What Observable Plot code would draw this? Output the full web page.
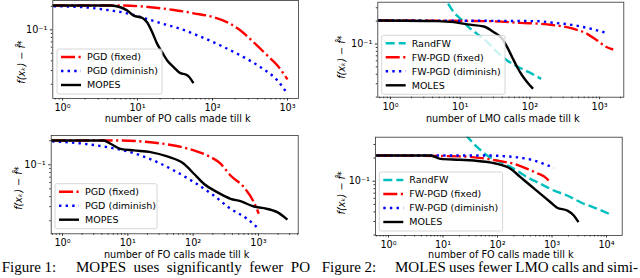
<!DOCTYPE html>
<html><head><meta charset="utf-8">
<script src="https://cdn.jsdelivr.net/npm/d3@7"></script>
<script src="https://cdn.jsdelivr.net/npm/@observablehq/plot@0.6"></script>
<style>
html,body{margin:0;padding:0;background:#fff;}
#fig{position:relative;width:640px;height:278px;overflow:hidden;}
.panel{position:absolute;}
.cap{position:absolute;font-family:"Liberation Serif";font-size:15px;line-height:15px;white-space:nowrap;color:#000;}
</style></head><body><div id="fig"></div>
<script>
// ---------- data ----------
// Panel 1: f(x_k)-f* vs number of PO calls
const p1_fixed_k = [0.76, 6.6, 14.9, 30.5, 56.4, 104, 174, 236, 354, 538, 735, 1000];
const p1_fixed_v = [0.205, 0.205, 0.195, 0.180, 0.163, 0.145, 0.119, 0.098, 0.0693, 0.0469, 0.0349, 0.0231];
const p1_dimin_k = [0.76, 1.92, 3.94, 7.3, 13.4, 20.3, 37.3, 69, 128, 236, 437, 735, 1000];
const p1_dimin_v = [0.201, 0.195, 0.180, 0.163, 0.138, 0.122, 0.103, 0.082, 0.0629, 0.0469, 0.0332, 0.0224, 0.0151];
const p1_mopes_k = [0.76, 4.37, 5.9, 7.3, 8.9, 11.5, 13.4, 15.7, 18.3, 21.3, 24.9, 30.5, 37.3, 43.8, 48.2, 54.6];
const p1_mopes_v = [0.205, 0.205, 0.195, 0.177, 0.152, 0.143, 0.125, 0.093, 0.066, 0.0516, 0.0404, 0.0331, 0.0278, 0.0267, 0.0252, 0.0213];

// Panel 2: vs number of LMO calls
const p2_rand_k = [6.7, 8.1, 10.1, 13.3, 17.5, 24.4, 34, 47.2, 65.8, 96.5, 145];
const p2_rand_v = [0.34, 0.262, 0.215, 0.166, 0.136, 0.106, 0.078, 0.0607, 0.0506, 0.0426, 0.0348];
const p2_fixed_k = [0.68, 24.4, 73.3, 177, 427, 663, 924, 1216, 1567];
const p2_fixed_v = [0.204, 0.200, 0.190, 0.181, 0.158, 0.136, 0.111, 0.0927, 0.0847];
const p2_dimin_k = [0.68, 127, 221, 427, 663, 1030, 1285];
const p2_dimin_v = [0.204, 0.200, 0.190, 0.177, 0.163, 0.147, 0.139];
const p2_moles_k = [0.68, 4.68, 8.1, 12.6, 21.8, 30.3, 40, 47.2, 55.7, 65.8, 77.5, 91.5, 108];
const p2_moles_v = [0.204, 0.200, 0.194, 0.181, 0.170, 0.143, 0.117, 0.0908, 0.0670, 0.0495, 0.0385, 0.0314, 0.0265];

// Panel 3: vs number of FO calls (MOPES)
const p3_fixed_k = [0.695, 6.88, 22.3, 50.7, 103, 164, 263, 374, 598, 851, 1014];
const p3_fixed_v = [0.201, 0.201, 0.191, 0.174, 0.151, 0.131, 0.103, 0.0735, 0.0525, 0.0341, 0.0244];
const p3_dimin_k = [0.695, 2.12, 4.83, 8.69, 15.6, 28.2, 50.7, 103, 207, 374, 673, 1014];
const p3_dimin_v = [0.196, 0.183, 0.166, 0.151, 0.131, 0.108, 0.0849, 0.0606, 0.0413, 0.0282, 0.0211, 0.0158];
const p3_mopes_k = [0.695, 4.29, 5.43, 7.73, 12.4, 22.3, 40.1, 72, 103, 146, 234, 374, 532, 851, 1211, 1941, 2692];
const p3_mopes_v = [0.201, 0.201, 0.183, 0.158, 0.151, 0.144, 0.127, 0.103, 0.0772, 0.0579, 0.0454, 0.0376, 0.0351, 0.0301, 0.0287, 0.0256, 0.0211];

// Panel 4: vs number of FO calls (MOLES)
const p4_rand_k = [26, 42.4, 64.7, 114, 200, 351, 615, 1081, 1900, 3334, 6745, 11840];
const p4_rand_v = [0.40, 0.277, 0.216, 0.177, 0.145, 0.113, 0.0925, 0.0757, 0.0652, 0.0533, 0.0438, 0.0370];
const p4_fixed_k = [0.62, 20.9, 64.7, 114, 200, 351, 535, 817, 938];
const p4_fixed_v = [0.216, 0.210, 0.195, 0.182, 0.168, 0.145, 0.127, 0.107, 0.0925];
const p4_dimin_k = [0.62, 64.7, 150, 264, 464, 708, 1081];
const p4_dimin_v = [0.216, 0.216, 0.210, 0.202, 0.186, 0.168, 0.149];
const p4_moles_k = [0.62, 5.9, 9.0, 20.9, 48.8, 98.6, 173, 264, 403, 615, 938, 1243, 1900, 2511, 2978];
const p4_moles_v = [0.216, 0.216, 0.195, 0.190, 0.182, 0.168, 0.145, 0.113, 0.0879, 0.0686, 0.0533, 0.0452, 0.0416, 0.0359, 0.0303];

// names, labels, ticks
const legend1 = ["PGD (fixed)", "PGD (diminish)", "MOPES"];
const legend2 = ["RandFW", "FW-PGD (fixed)", "FW-PGD (diminish)", "MOLES"];
const xLabels = ["number of PO calls made till k", "number of LMO calls made till k", "number of FO calls made till k", "number of FO calls made till k"];
const yLabel = "f(x\u2096) \u2212 f\u0302*";
const xMajor3 = [1, 10, 100, 1000];
const xMajor4 = [1, 10, 100, 1000, 10000];
const yMajor = [0.1];
const captions = [["Figure 1:", "MOPES uses significantly fewer PO"], ["Figure 2:", "MOLES uses fewer LMO calls and simi-"]];

// ---------- styles ----------
const STYLE = {
  "PGD (fixed)":       {color: "#ff0000", dash: "14,3.5,2.2,3.5", cap: "butt"},
  "PGD (diminish)":    {color: "#0000ff", dash: "2.4,4.2", cap: "butt"},
  "MOPES":             {color: "#000000", dash: null, cap: "square"},
  "RandFW":            {color: "#00bfbf", dash: "9,4", cap: "butt"},
  "FW-PGD (fixed)":    {color: "#ff0000", dash: "14,3.5,2.2,3.5", cap: "butt"},
  "FW-PGD (diminish)": {color: "#0000ff", dash: "2.4,4.2", cap: "butt"},
  "MOLES":             {color: "#000000", dash: null, cap: "square"}
};
const AXIS = "#333";
const LW = 2.4;

const SUP = {"0":"\u2070","1":"\u00b9","2":"\u00b2","3":"\u00b3","4":"\u2074","-":"\u207b"};
const pow10Label = d => "10" + String(Math.round(Math.log10(d))).split("").map(c => SUP[c]).join("");
function minors(lo, hi) {
  const out = [];
  for (let e = -3; e <= 5; e++) for (let m = 2; m <= 9; m++) {
    const v = m * Math.pow(10, e);
    if (v >= lo && v <= hi) out.push(v);
  }
  return out;
}

function legendMark(names, firstRow, boxWidth, leftOff) {
  return (index, scales, values, dims) => {
    const {marginLeft, marginTop} = dims;
    const n = names.length;
    const x0 = marginLeft + leftOff;
    const y0 = marginTop + firstRow - 8;
    const h = 14 * (n - 1) + 17;
    const g = d3.create("svg:g");
    g.append("rect").attr("x", x0).attr("y", y0).attr("width", boxWidth).attr("height", h)
      .attr("rx", 2).attr("fill", "white").attr("fill-opacity", 0.8)
      .attr("stroke", "#cccccc").attr("stroke-width", 0.8);
    names.forEach((name, i) => {
      const s = STYLE[name];
      const y = marginTop + firstRow + 14 * i;
      g.append("line").attr("x1", x0 + 4).attr("x2", x0 + 24).attr("y1", y).attr("y2", y)
        .attr("stroke", s.color).attr("stroke-width", LW)
        .attr("stroke-dasharray", s.dash).attr("stroke-linecap", s.cap === "square" ? "butt" : s.cap);
      g.append("text").attr("x", x0 + 30).attr("y", y).attr("dy", "0.35em")
        .attr("text-anchor", "start").attr("font-size", "9.5px").attr("fill", "black").text(name);
    });
    return g.node();
  };
}

// rotated y-axis title, centred at (frame left + dx, frame middle + dy)
function yLabelMark(dx, dy) {
  return (index, scales, values, dims) => {
    const cx = dims.marginLeft + dx;
    const cy = (dims.marginTop + dims.height - dims.marginBottom) / 2 + dy;
    return d3.create("svg:text")
      .attr("transform", `translate(${cx},${cy}) rotate(-90)`)
      .attr("text-anchor", "middle").attr("dy", "0.35em")
      .attr("font-style", "italic").attr("fill", "black").text(yLabel).node();
  };
}

function makePanel(cfg) {
  const lines = cfg.series.map(([name, k, v]) => {
    const s = STYLE[name];
    return Plot.line(d3.zip(k, v), {
      x: d => d[0], y: d => d[1], stroke: s.color, strokeWidth: LW,
      strokeDasharray: s.dash, strokeLinecap: s.cap, strokeLinejoin: "round",
      curve: "monotone-x", clip: true
    });
  });
  const chart = Plot.plot({
    width: cfg.width, height: cfg.height,
    marginTop: cfg.m[0], marginRight: cfg.m[1], marginBottom: cfg.m[2], marginLeft: cfg.m[3],
    style: {fontFamily: "DejaVu Sans", fontSize: "9.7px", background: "transparent", color: "black"},
    x: {type: "log", domain: cfg.xDomain},
    y: {type: "log", domain: cfg.yDomain},
    marks: [
      ...lines,
      Plot.frame({stroke: AXIS, strokeWidth: 0.8}),
      Plot.axisX({ticks: cfg.xMajor, tickFormat: pow10Label, tickSize: 2.5, tickPadding: 3, label: null, stroke: AXIS, fill: "black"}),
      Plot.axisX({ticks: minors(cfg.xDomain[0], cfg.xDomain[1]), tickFormat: () => "", tickSize: 1.5, label: null, stroke: AXIS}),
      Plot.axisY({ticks: yMajor, tickFormat: pow10Label, tickSize: 2.5, tickPadding: 3, label: null, stroke: AXIS, fill: "black"}),
      Plot.axisY({ticks: minors(cfg.yDomain[0], cfg.yDomain[1]), tickFormat: () => "", tickSize: 1.5, label: null, stroke: AXIS}),
      Plot.text([cfg.xLabel], {frameAnchor: "bottom", dx: 2, dy: cfg.xLabelDy, lineAnchor: "middle", fill: "black"}),
      yLabelMark(cfg.yLabelD[0], cfg.yLabelD[1]),
      legendMark(cfg.legend, cfg.legendRow, cfg.legendWidth, cfg.legendLeft)
    ]
  });
  chart.classList.add("panel");
  chart.style.left = cfg.left + "px";
  chart.style.top = cfg.top + "px";
  chart.style.position = "absolute";
  return chart;
}

const panels = [
  {left: 0, top: 0, width: 320, height: 128, m: [0, 22, 30, 52.3],
   xDomain: [0.742, 1402], yDomain: [0.01315, 0.238], xMajor: xMajor3,
   series: [["PGD (fixed)", p1_fixed_k, p1_fixed_v], ["PGD (diminish)", p1_dimin_k, p1_dimin_v], ["MOPES", p1_mopes_k, p1_mopes_v]],
   xLabel: xLabels[0], xLabelDy: 20, yLabelD: [-30.6, 13], legend: legend1, legendRow: 57, legendWidth: 105, legendLeft: 4.7},
  {left: 320, top: 0, width: 320, height: 128, m: [1.7, 16.7, 31.3, 57.3],
   xDomain: [0.657, 2224], yDomain: [0.01995, 0.355], xMajor: xMajor3,
   series: [["RandFW", p2_rand_k, p2_rand_v], ["FW-PGD (fixed)", p2_fixed_k, p2_fixed_v], ["FW-PGD (diminish)", p2_dimin_k, p2_dimin_v], ["MOLES", p2_moles_k, p2_moles_v]],
   xLabel: xLabels[1], xLabelDy: 21.3, yLabelD: [-35.6, 8], legend: legend2, legendRow: 41.6, legendWidth: 123.3, legendLeft: 4.4},
  {left: 0, top: 128, width: 320, height: 134, m: [7, 22.3, 28.7, 50.7],
   xDomain: [0.671, 4066], yDomain: [0.01373, 0.232], xMajor: xMajor3,
   series: [["PGD (fixed)", p3_fixed_k, p3_fixed_v], ["PGD (diminish)", p3_dimin_k, p3_dimin_v], ["MOPES", p3_mopes_k, p3_mopes_v]],
   xLabel: xLabels[2], xLabelDy: 20.7, yLabelD: [-32.4, 4], legend: legend1, legendRow: 56.7, legendWidth: 102, legendLeft: 4.3},
  {left: 320, top: 128, width: 320, height: 134, m: [8.7, 18.3, 27, 55],
   xDomain: [0.577, 19410], yDomain: [0.01972, 0.373], xMajor: xMajor4,
   series: [["RandFW", p4_rand_k, p4_rand_v], ["FW-PGD (fixed)", p4_fixed_k, p4_fixed_v], ["FW-PGD (diminish)", p4_dimin_k, p4_dimin_v], ["MOLES", p4_moles_k, p4_moles_v]],
   xLabel: xLabels[3], xLabelDy: 19.3, yLabelD: [-33.3, 7], legend: legend2, legendRow: 43.3, legendWidth: 123.3, legendLeft: 4.3}
];

const fig = document.getElementById("fig");
panels.forEach(cfg => fig.appendChild(makePanel(cfg)));

// captions: head at left, body stretched/condensed (word spacing) to the measured span
const capPos = [{l1: 1.7, l2: 76, w2: 234}, {l1: 321.7, l2: 395, w2: 243}];
captions.forEach(([head, body], i) => {
  const a = document.createElement("div");
  a.className = "cap"; a.style.left = capPos[i].l1 + "px"; a.style.top = "260px"; a.textContent = head;
  const b = document.createElement("div");
  b.className = "cap"; b.style.left = capPos[i].l2 + "px"; b.style.top = "260px"; b.textContent = body;
  fig.appendChild(a); fig.appendChild(b);
  const w = b.getBoundingClientRect().width;
  const target = capPos[i].w2;
  const nsp = body.split(" ").length - 1;
  let ws = (target - w) / nsp;
  if (ws < -1.5) { b.style.fontSize = (15 * target / w) + "px"; ws = 0; }
  b.style.wordSpacing = ws + "px";
});
</script></body></html>
